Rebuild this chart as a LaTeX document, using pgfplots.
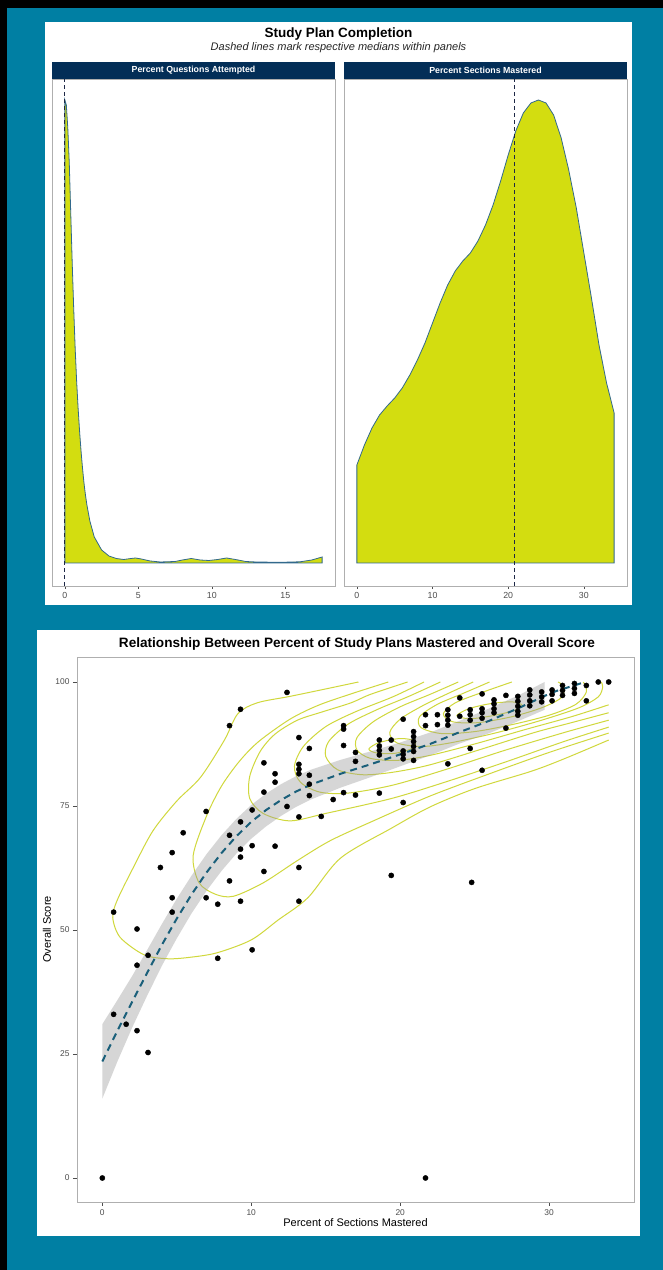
\documentclass[border=0pt]{standalone}
\usepackage{pgfplots}
\pgfplotsset{compat=1.18}
\usepackage{fontspec}
\setmainfont{Liberation Sans}
\definecolor{bgteal}{RGB}{0,127,163}
\definecolor{ygreen}{RGB}{211,221,16}
\definecolor{dens}{RGB}{50,105,140}
\definecolor{navy}{RGB}{3,46,87}
\definecolor{medline}{RGB}{30,40,70}
\definecolor{contourc}{RGB}{208,216,60}
\definecolor{smoothc}{RGB}{26,95,122}
\definecolor{ticktext}{RGB}{77,77,77}
\definecolor{framec}{RGB}{175,175,175}
\definecolor{ribbon}{RGB}{153,153,153}
\pgfplotsset{
  facet/.style={scale only axis, width=283pt, height=507pt, ymin=-23, ymax=484,
    ytick=\empty, axis line style={framec, line width=0.8pt}, tick align=outside,
    major tick length=3pt, xtick pos=left, xtick style={ticktext, line width=0.5pt},
    tick label style={font=\fontsize{8.8}{9}\selectfont, text=ticktext},
    /pgf/number format/assume math mode=true},
}
\begin{document}
\begin{tikzpicture}[x=1pt,y=1pt]
\fill[black] (0,0) rectangle (663,1270);
\fill[bgteal] (7,0) rectangle (663,1262);
\fill[white] (45,665) rectangle (632,1248);
\fill[white] (37,34) rectangle (640,640);
\node[font=\fontsize{13.5}{14}\selectfont\bfseries] at (338.5,1236) {Study Plan Completion};
\node[font=\fontsize{11}{12}\selectfont\itshape, text=black!85] at (338.5,1222) {Dashed lines mark respective medians within panels};
\fill[navy] (52,1191) rectangle (335,1208);
\node[white, font=\fontsize{8.8}{9}\selectfont\bfseries] at (193.5,1199.5) {Percent Questions Attempted};
\fill[navy] (344,1191) rectangle (627,1208);
\node[white, font=\fontsize{8.8}{9}\selectfont\bfseries] at (485.5,1199.5) {Percent Sections Mastered};

\begin{axis}[facet, at={(52pt,684pt)}, anchor=south west, xmin=-0.875, xmax=18.375, xtick={0,5,10,15}]
\addplot[fill=ygreen, draw=dens, line width=0.8pt] coordinates {(0,0) (0,463) (0.1,458) (0.2,435) (0.3,400) (0.4,350) (0.5,300) (0.6,255) (0.7,215) (0.8,182) (0.9,155) (1.0,132) (1.1,112) (1.2,95) (1.3,80) (1.4,68) (1.5,58) (1.7,42) (2.0,26) (2.5,13) (3.0,7) (3.5,4.5) (4.0,3.5) (4.5,4.5) (4.8,5) (5.2,4) (5.8,2) (6.5,1) (7.5,1.5) (8.0,3) (8.6,4.5) (9.2,3) (9.8,2.5) (10.4,3.5) (11.0,5) (11.6,3.5) (12.3,1.5) (13,1) (14,0.8) (15,0.8) (16,1.2) (16.8,3) (17.5,6) (17.5,0)} -- cycle;
\addplot[medline, line width=0.8pt, dash pattern=on 4pt off 3pt] coordinates {(0,-23) (0,484)};
\end{axis}

\begin{axis}[facet, at={(344pt,684pt)}, anchor=south west, xmin=-1.7, xmax=35.7, xtick={0,10,20,30}]
\addplot[fill=ygreen, draw=dens, line width=0.8pt] coordinates {(0,0) (0,98) (1,118) (2,135) (3,148) (4,157) (5,165) (6,175) (7,188) (8,203) (9,220) (10,240) (11,260) (12,278) (13,292) (14,302) (15,310) (16,322) (17,338) (18,358) (19,382) (20,408) (21,432) (22,450) (23,460) (24,463) (25,460) (26,448) (27,425) (28,393) (29,355) (30,310) (31,265) (32,218) (33,180) (34,150) (34,0)} -- cycle;
\addplot[medline, line width=0.8pt, dash pattern=on 4pt off 3pt] coordinates {(20.8,-23) (20.8,484)};
\end{axis}

\node[font=\fontsize{13.6}{14}\selectfont\bfseries] at (357,626) {Relationship Between Percent of Study Plans Mastered and Overall Score};
\node[font=\fontsize{11}{12}\selectfont, rotate=90] at (47,340.5) {Overall Score};
\node[font=\fontsize{11}{12}\selectfont] at (355.5,47) {Percent of Sections Mastered};

\begin{axis}[scale only axis, width=557pt, height=545pt, at={(77pt,68pt)}, anchor=south west,
  xmin=-1.7, xmax=35.7, ymin=-4.84, ymax=105.04, xtick={0,10,20,30}, ytick={0,25,50,75,100},
  axis line style={framec, line width=0.8pt}, tick align=outside, major tick length=4pt,
  xtick pos=left, ytick pos=left, tick style={ticktext, line width=0.5pt},
  tick label style={font=\fontsize{8.4}{9}\selectfont, text=ticktext},
  /pgf/number format/assume math mode=true]
\addplot[only marks, mark=*, mark size=2.6pt, black] coordinates {
(0,0) (0.76,53.6) (0.76,33) (1.6,31) (2.33,50.2) (2.33,42.9) (2.33,29.7) (3.07,44.9) (3.07,25.3)
(3.9,62.6) (4.69,65.6) (4.69,56.5) (4.69,53.6) (5.43,69.6) (6.97,73.9) (6.97,56.5) (7.75,55.2) (7.75,44.3)
(8.54,91.2) (8.54,69.1) (8.54,59.9) (9.28,94.5) (9.28,71.8) (9.28,66.3) (9.28,64.7) (9.28,55.8)
(10.06,74.2) (10.06,67.0) (10.06,46.0) (10.85,83.7) (10.85,77.8) (10.85,61.8) (11.6,81.5) (11.6,79.8) (11.6,66.9)
(12.4,97.9) (12.4,74.9) (13.2,88.8) (13.2,83.4) (13.2,82.4) (13.2,81.5) (13.2,72.8) (13.2,62.6) (13.2,55.8)
(13.9,86.6) (13.9,81.2) (13.9,79.4) (13.9,77.1) (14.7,72.9) (15.5,76.3) (16.2,91.2) (16.2,90.5) (16.2,87.2) (16.2,77.7)
(17.0,85.8) (17.0,84.0) (17.0,77.2) (18.6,88.3) (18.6,87.1) (18.6,86.2) (18.6,85.3) (18.6,77.6)
(19.4,88.3) (19.4,86.5) (19.4,61.0) (20.2,92.5) (20.2,86.1) (20.2,85.4) (20.2,84.5) (20.2,75.7)
(20.9,90.0) (20.9,89.0) (20.9,88.0) (20.9,87.0) (20.9,86.0) (20.9,84.2) (21.7,93.4) (21.7,91.2) (21.7,0)
(22.5,93.4) (22.5,91.4) (23.2,94.4) (23.2,93.3) (23.2,92.3) (23.2,91.3) (23.2,83.5) (24.0,96.8) (24.0,93.1)
(24.7,94.4) (24.7,93.4) (24.7,92.3) (24.7,86.6) (24.8,59.6) (25.5,97.6) (25.5,94.6) (25.5,93.8) (25.5,92.7) (25.5,82.2)
(26.3,96.4) (26.3,95.6) (26.3,94.6) (26.3,93.8) (27.1,97.3) (27.1,90.7) (27.9,97.1) (27.9,96.1) (27.9,95.1) (27.9,94.1) (27.9,93.3)
(28.7,98.4) (28.7,97.4) (28.7,96.2) (28.7,95.2) (29.5,98.0) (29.5,97.0) (29.5,96.0) (30.2,98.4) (30.2,97.5) (30.2,96.2)
(30.9,99.3) (30.9,98.3) (30.9,97.3) (31.7,99.7) (31.7,98.7) (31.7,97.7) (32.5,99.3) (32.5,96.2) (33.3,100) (34.0,100)};
% contours
\addplot[contourc, line width=1pt, smooth] coordinates {(17.2,100) (15,98.6) (12.6,97.1) (10.4,95.8) (9.1,93.6) (8.2,88.3) (6.6,80.8) (5,76) (3.4,70) (2.1,62.7) (1,56) (0.7,52.5) (1.2,48.5) (2.8,45) (4.4,44.2) (5.9,44.5) (7.7,45.4) (10,48) (11.8,52) (13.8,56.5) (16,64.5) (19.4,70.5) (22,74.8) (25,78.5) (28.8,82) (31,84.5) (34,88.3)};
\addplot[contourc, line width=1pt, smooth] coordinates {(19.2,100) (16.7,97.6) (14.5,95.3) (12.6,92.5) (10.5,88) (9.2,84) (8,79) (7,73) (6.1,65) (6.5,59.5) (7.6,57.2) (8.8,56.8) (10.8,59.5) (13.1,64) (15.3,68) (18.2,72) (22,77) (26,81.5) (30,85.8) (34,89.7)};
\addplot[contourc, line width=1pt, smooth] coordinates {(20.5,100) (18,97.5) (16.7,95.8) (14.8,94) (13.1,92.3) (11.6,89.5) (10.6,86) (9.9,81) (9.9,76.5) (10.8,73.5) (12.6,72) (15,73.5) (19.4,76.5) (23,79.8) (27,83.8) (31,88) (34,90.9)};
\addplot[contourc, line width=1pt, smooth] coordinates {(21.6,100) (19.5,97) (17,94) (15,91) (13.5,87) (12.9,83) (13.3,79.8) (14.6,77.8) (16.5,77.6) (19.5,79.2) (23,82.3) (27,86.2) (31,89.8) (34,92.3)};
\addplot[contourc, line width=1pt, smooth] coordinates {(22.7,100) (20.5,97) (18.5,94.5) (16.5,91.5) (15.2,88) (15,85) (15.8,82.3) (17.5,81.3) (19.5,81.8) (22,83.3) (25.5,86.5) (29,89.8) (31.5,91.8) (34,93.8)};
\addplot[contourc, line width=1pt, smooth] coordinates {(23.9,100) (22,97.5) (20,95) (18.2,92) (17.1,88.8) (17.1,86.3) (18,84.6) (19.8,84.2) (22,85.2) (25,87.5) (28.5,90.5) (31.5,93) (34,95.4)};
\addplot[contourc, line width=1pt, smooth] coordinates {(24.9,100) (23.3,97.8) (21.5,95.2) (20,92.5) (19.3,89.8) (19.8,87.7) (21.5,87) (23.5,87.8) (26.5,89.8) (29.5,92.3) (32,94.8) (33.3,97) (33.6,99) (33.5,100)};
\addplot[contourc, line width=1pt, smooth] coordinates {(26,100) (24.3,97.8) (22.5,95.5) (21.3,93) (21.4,90.8) (22.8,89.6) (25,90) (27.5,91.4) (30,93.3) (31.8,95.5) (32.5,98) (32.3,100)};
\addplot[contourc, line width=1pt, smooth] coordinates {(27.5,100) (25.5,97.9) (23.7,95.8) (22.9,93.6) (23.5,92) (25.2,91.8) (27.5,93) (29.5,94.8) (30.8,96.8) (31,99) (30.6,100)};
\addplot[contourc, line width=1pt, smooth cycle] coordinates {(23.8,93.2) (24.6,94.6) (26,95.6) (27.5,96) (28.2,95.3) (27.6,94.2) (26.2,93.2) (24.7,92.6)};
\addplot[contourc, line width=1pt, smooth cycle] coordinates {(17.9,86.5) (18.6,87.8) (20,88.6) (21,88.1) (20.8,86.6) (19.6,85.6) (18.4,85.7)};
% ribbon
\addplot[draw=none, fill=ribbon, fill opacity=0.4] coordinates {
(0,31) (1,35.8) (2,40.7) (3,45.9) (4,51.2) (5,56.3) (6,61) (7,65.3) (8,69.1) (9,72.4) (10,75.2) (11,77.5) (12,79.4) (13,81) (14,82.3) (16,84.3) (18,86) (20,87.8) (22,89.8) (24,92.2) (26,94.7) (28,97.4) (29.7,100)
(29.7,94.4) (28,92.2) (26,89.7) (24,87.6) (22,85.2) (20,83) (18,80.8) (16,78.7) (14,76.3) (13,74.8) (12,73) (11,70.9) (10,68.4) (9,65.4) (8,61.9) (7,57.9) (6,53.4) (5,48.3) (4,42.8) (3,36.7) (2,30.3) (1,23.4) (0,16)} -- cycle;
\addplot[smoothc, line width=2pt, dash pattern=on 7pt off 5pt] coordinates {
(0,23.5) (1,29.6) (2,35.5) (3,41.3) (4,47) (5,52.3) (6,57.2) (7,61.6) (8,65.5) (9,68.9) (10,71.8) (11,74.2) (12,76.2) (13,77.9) (14,79.3) (16,81.5) (18,83.4) (20,85.4) (22,87.5) (24,89.9) (26,92.2) (28,94.8) (29.7,97.2) (30.5,98.2) (32,99.6) (32.4,100)};
\end{axis}
\pgfresetboundingbox
\path (0,0) rectangle (663,1270);
\end{tikzpicture}
\end{document}
